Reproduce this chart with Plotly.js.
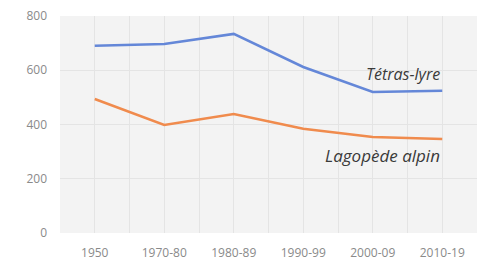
<!DOCTYPE html>
<html><head><meta charset="utf-8">
<script src="https://cdn.plot.ly/plotly-3.0.1.min.js"></script>
<style>html,body{margin:0;padding:0;background:#fff}#c{width:483px;height:263px}</style>
</head><body><div id="c"></div>
<script>
const categories = ["1950","1970-80","1980-89","1990-99","2000-09","2010-19"];
const tetrasLyre = [690, 697, 734, 612, 520, 524];
const lagopedeAlpin = [494, 398, 439, 384, 354, 347];
const seriesNames = ["Tétras-lyre","Lagopède alpin"];
const yTicks = [0, 200, 400, 600, 800];

const idx = categories.map((c,i)=>i);
const halfTicks = [];
for (let i = 0; i < categories.length; i++) { halfTicks.push(i - 0.5); }
halfTicks.push(categories.length - 0.5);

const traces = [
  {x: idx, y: tetrasLyre, type:'scatter', mode:'lines', name: seriesNames[0],
   line:{color:'#6487d8', width:2.5}},
  {x: idx, y: lagopedeAlpin, type:'scatter', mode:'lines', name: seriesNames[1],
   line:{color:'#f08b4d', width:2.5}}
];
const layout = {
  width:483, height:263,
  margin:{l:60, r:6, t:16, b:30},
  paper_bgcolor:'#ffffff', plot_bgcolor:'#f3f3f3',
  showlegend:false,
  font:{family:'Open Sans, sans-serif', color:'#8a8a8a', size:12},
  xaxis:{range:[-0.5, categories.length-0.5], tickmode:'array', tickvals: idx, ticktext: categories,
    showgrid:true, gridcolor:'#e4e4e4', gridwidth:1, zeroline:false, showline:false, ticks:'',
    ticklabelstandoff:11, fixedrange:true, tickfont:{size:12, color:'#8a8a8a'},
    minor:{tickmode:'array', tickvals: halfTicks, showgrid:true, gridcolor:'#e4e4e4', gridwidth:1}},
  yaxis:{range:[0,800], tickmode:'array', tickvals: yTicks, showgrid:true, gridcolor:'#e4e4e4',
    zeroline:false, showline:false, ticks:'', ticklabelstandoff:12, fixedrange:true,
    tickfont:{size:12, color:'#8a8a8a'}},
  annotations:[
    {x: categories.length-1, y: tetrasLyre[tetrasLyre.length-1], xref:'x', yref:'y', text:seriesNames[0],
     showarrow:false, xanchor:'right', yanchor:'bottom', yshift:4,
     font:{family:'Open Sans, sans-serif', size:16, color:'#3a3a3a', style:'italic'}},
    {x: categories.length-1, y: lagopedeAlpin[lagopedeAlpin.length-1], xref:'x', yref:'y', text:seriesNames[1],
     showarrow:false, xanchor:'right', yanchor:'top', yshift:-3,
     font:{family:'Open Sans, sans-serif', size:17, color:'#3a3a3a', style:'italic'}}
  ]
};
Plotly.newPlot('c', traces, layout, {displayModeBar:false, staticPlot:true});
</script></body></html>
